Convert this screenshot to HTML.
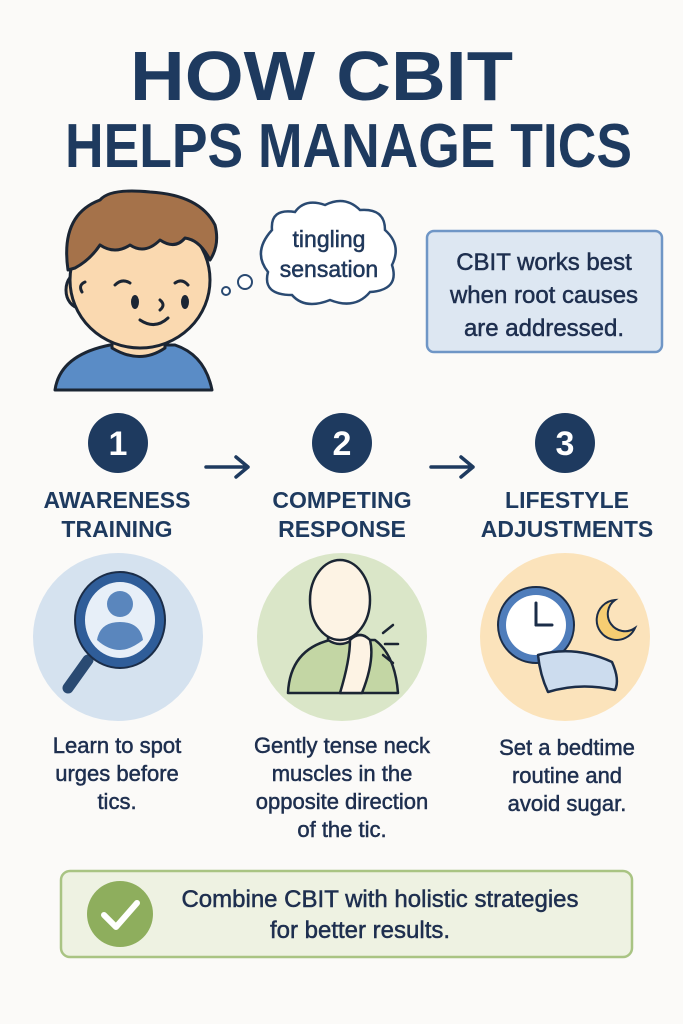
<!DOCTYPE html>
<html><head><meta charset="utf-8"><style>
html,body{margin:0;padding:0;background:#fbfaf8;}
svg{display:block;}
text{font-family:"Liberation Sans",sans-serif;}
.b{stroke:#1e2f4f;stroke-width:0.5;}
</style></head><body>
<svg width="683" height="1024" viewBox="0 0 683 1024" xmlns="http://www.w3.org/2000/svg">
<rect width="683" height="1024" fill="#fbfaf8"/>
<!-- title -->
<text x="130" y="100" font-size="70" font-weight="bold" fill="#1e3a5f" textLength="383" lengthAdjust="spacingAndGlyphs">HOW CBIT</text>
<text x="65" y="167" font-size="62" font-weight="bold" fill="#1e3a5f" textLength="567" lengthAdjust="spacingAndGlyphs">HELPS MANAGE TICS</text>

<!-- boy -->
<g stroke="#1b2533" stroke-width="3" stroke-linejoin="round">
  <path d="M55 390 Q60 355 110 345 L175 345 Q205 355 212 390 Z" fill="#5a8cc6"/>
  <path d="M112 320 L112 348 Q140 365 165 348 L165 320 Z" fill="#fad9b0"/>
  <ellipse cx="80" cy="290" rx="14" ry="18" fill="#fad9b0"/>
  <ellipse cx="140" cy="280" rx="70" ry="68" fill="#fad9b0"/>
  <path d="M68 270 Q60 215 100 200 Q110 188 150 192 Q200 195 215 225 Q220 245 210 260 Q200 240 185 238 Q175 250 160 240 Q145 255 130 245 Q115 255 100 245 Q90 260 75 268 Z" fill="#a5724a"/>
</g>
<g stroke="#1b2533" stroke-width="3" fill="none" stroke-linecap="round">
  <path d="M115 285 Q122 278 130 283"/><path d="M175 283 Q182 278 188 285"/>
  <path d="M140 320 Q155 330 168 318"/><path d="M160 300 Q166 305 160 310"/>
  <path d="M82 292 Q78 285 85 282"/>
</g>
<ellipse cx="135" cy="302" rx="4" ry="7" fill="#1b2533"/>
<ellipse cx="185" cy="302" rx="4" ry="7" fill="#1b2533"/>
<!-- thought cloud -->
<path d="M272 230 Q270 208 295 212 Q305 198 325 205 Q345 195 360 210 Q385 208 385 230 Q402 245 392 265 Q400 290 370 292 Q355 310 330 300 Q305 310 292 295 Q262 295 268 272 Q252 252 272 230 Z" fill="#fff" stroke="#2a4a72" stroke-width="2.5"/>
<circle cx="226" cy="291" r="4" fill="#fff" stroke="#2a4a72" stroke-width="2"/>
<circle cx="245" cy="282" r="7" fill="#fff" stroke="#2a4a72" stroke-width="2"/>
<text class="b" x="329" y="247" font-size="23" fill="#1e3a5f" text-anchor="middle">tingling</text>
<text class="b" x="329" y="277" font-size="23" fill="#1e3a5f" text-anchor="middle">sensation</text>
<!-- blue box -->
<rect x="427" y="231" width="235" height="121" rx="7" fill="#dde7f2" stroke="#6f96c6" stroke-width="2.5"/>
<text class="b" x="544" y="270" font-size="24" fill="#1e2f4f" text-anchor="middle">CBIT works best</text>
<text class="b" x="544" y="303" font-size="24" fill="#1e2f4f" text-anchor="middle">when root causes</text>
<text class="b" x="544" y="336" font-size="24" fill="#1e2f4f" text-anchor="middle">are addressed.</text>

<!-- steps -->
<g fill="#1e3a5f">
<circle cx="118" cy="443" r="30"/><circle cx="342" cy="443" r="30"/><circle cx="565" cy="443" r="30"/>
</g>
<g fill="#fff" font-size="34" font-weight="bold" text-anchor="middle">
<text x="118" y="455">1</text><text x="342" y="455">2</text><text x="565" y="455">3</text>
</g>
<g stroke="#1e3a5f" stroke-width="3.5" fill="none" stroke-linecap="round" stroke-linejoin="round">
<path d="M206 467 H248 M236 457 L248 467 L236 477"/>
<path d="M431 467 H473 M461 457 L473 467 L461 477"/>
</g>
<g fill="#1e3a5f" font-size="23" font-weight="bold" text-anchor="middle">
<text x="117" y="508">AWARENESS</text><text x="117" y="537">TRAINING</text>
<text x="342" y="508">COMPETING</text><text x="342" y="537">RESPONSE</text>
<text x="567" y="508">LIFESTYLE</text><text x="567" y="537">ADJUSTMENTS</text>
</g>

<!-- icon circles -->
<ellipse cx="118" cy="637" rx="85" ry="84" fill="#d5e2ef"/>
<ellipse cx="342" cy="637" rx="85" ry="84" fill="#dae6c8"/>
<ellipse cx="565" cy="637" rx="85" ry="84" fill="#fbe3bb"/>
<!-- magnifier -->
<line x1="88" y1="660" x2="68" y2="688" stroke="#2a4a72" stroke-width="11" stroke-linecap="round"/>
<ellipse cx="120" cy="620" rx="45" ry="48" fill="#2f5d99" stroke="#1b2d48" stroke-width="2"/>
<ellipse cx="120" cy="620" rx="35" ry="38" fill="#e7eff8"/>
<circle cx="120" cy="604" r="13" fill="#5a86bd"/>
<path d="M97 640 Q100 622 120 622 Q140 622 143 640 Q130 650 120 650 Q108 650 97 640 Z" fill="#5a86bd"/>
<!-- person -->
<g stroke="#1b2533" stroke-width="2.5" stroke-linejoin="round">
<path d="M288 693 Q290 650 330 640 L375 640 Q395 655 398 693 Z" fill="#c3d6a4"/>
<path d="M328 640 L328 620 L352 620 L352 640 Q340 648 328 640Z" fill="#fdf3e4"/>
<ellipse cx="340" cy="600" rx="30" ry="40" fill="#fdf3e4"/>
<path d="M340 693 Q350 660 350 640 Q360 630 370 640 Q375 660 362 693 Z" fill="#fdf3e4"/>
</g>
<g stroke="#1b2533" stroke-width="2.5" stroke-linecap="round"><line x1="383" y1="633" x2="393" y2="625"/><line x1="385" y1="644" x2="398" y2="644"/><line x1="383" y1="655" x2="393" y2="663"/></g>
<!-- clock, moon, pillow -->
<circle cx="536" cy="625" r="38" fill="#4f7dbb" stroke="#1b2d48" stroke-width="2"/>
<circle cx="536" cy="625" r="30" fill="#fff"/>
<g stroke="#1b2d48" stroke-width="3" stroke-linecap="round"><line x1="536" y1="625" x2="536" y2="603"/><line x1="536" y1="625" x2="552" y2="625"/></g>
<path d="M615 600 A20 20 0 1 0 635 628 A16 16 0 1 1 615 600 Z" fill="#f6cd72" stroke="#1b2d48" stroke-width="2"/>
<path d="M538 655 Q575 645 612 662 Q620 680 615 690 Q580 682 548 692 Q540 675 538 655 Z" fill="#ccdcee" stroke="#1b2d48" stroke-width="2.5" stroke-linejoin="round"/>

<!-- descriptions -->
<g class="b" fill="#1e2f4f" font-size="22" text-anchor="middle">
<text x="117" y="753">Learn to spot</text><text x="117" y="781">urges before</text><text x="117" y="809">tics.</text>
<text x="342" y="753">Gently tense neck</text><text x="342" y="781">muscles in the</text><text x="342" y="809">opposite direction</text><text x="342" y="837">of the tic.</text>
<text x="567" y="755">Set a bedtime</text><text x="567" y="783">routine and</text><text x="567" y="811">avoid sugar.</text>
</g>

<!-- bottom box -->
<rect x="61" y="871" width="571" height="86" rx="9" fill="#eef2e2" stroke="#a9c483" stroke-width="2.5"/>
<circle cx="120" cy="914" r="33" fill="#8eae5d"/>
<path d="M104 915 L116 927 L137 903" stroke="#fff" stroke-width="6" fill="none" stroke-linecap="round" stroke-linejoin="round"/>
<text class="b" x="380" y="907" font-size="24" fill="#1e2f4f" text-anchor="middle">Combine CBIT with holistic strategies</text>
<text class="b" x="360" y="938" font-size="24" fill="#1e2f4f" text-anchor="middle">for better results.</text>
</svg>
</body></html>
